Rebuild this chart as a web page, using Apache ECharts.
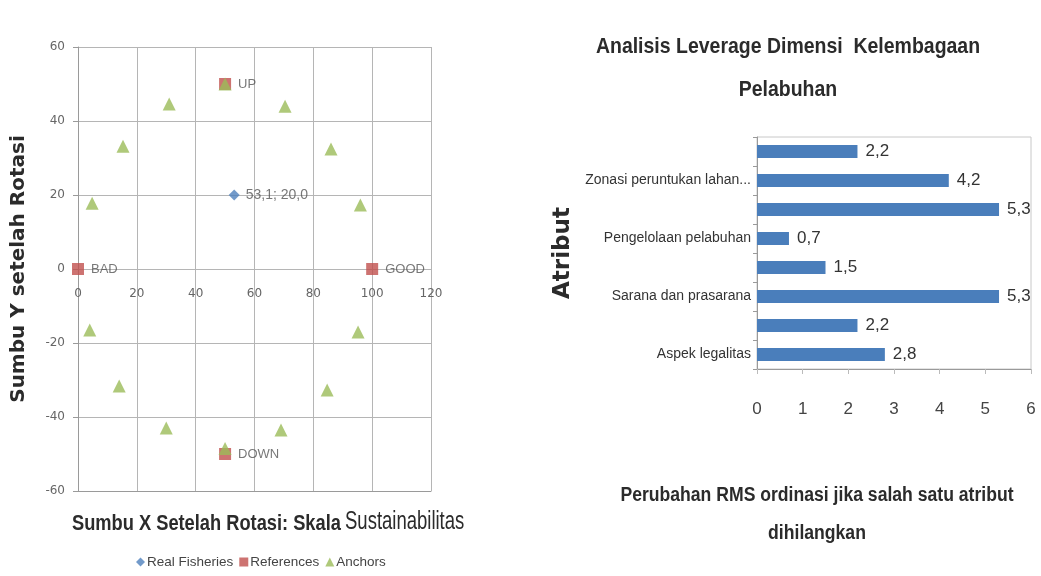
<!DOCTYPE html>
<html>
<head>
<meta charset="utf-8">
<script src="https://cdn.jsdelivr.net/npm/echarts@6/dist/echarts.min.js"></script>
<style>
  html, body { margin: 0; padding: 0; background: #fff; }
  #chart { width: 1041px; height: 576px; }
</style>
</head>
<body>
<div id="chart"></div>
<script>
// ---- Ordination (RAPFISH-style) scatter ----
const realFisheries = [[53.1, 20.0]];
const referencePoints = [[0, 0], [100, 0], [50, 50], [50, -50]];
const referenceNames = ['BAD', 'GOOD', 'UP', 'DOWN'];
const anchorPoints = [
  [4.8, 17.8], [15.3, 33.2], [31, 44.6], [50, 50], [70.4, 44], [86, 32.4], [96, 17.3],
  [95.2, -17], [84.7, -32.7], [69, -43.5], [50, -48.5], [30, -43], [14, -31.6], [4, -16.5]
];
const scatterXTicks = [0, 20, 40, 60, 80, 100, 120];
const scatterYTicks = [-60, -40, -20, 0, 20, 40, 60];

// ---- Leverage bar chart (listed bottom to top) ----
const attributeNames = ['Aspek legalitas', '', 'Sarana dan prasarana', '', 'Pengelolaan pelabuhan', '', 'Zonasi peruntukan lahan...', ''];
const rmsChange = [2.8, 2.2, 5.3, 1.5, 0.7, 5.3, 4.2, 2.2];
const leverageTicks = [0, 1, 2, 3, 4, 5, 6];

const comma = v => v.toFixed(1).replace('.', ',');
const sans = 'Liberation Sans, Arial, sans-serif';
const titleColor = '#2b2b2b';

// condensed heading text: a plain text element squeezed horizontally
function heading(text, x, y, size, weight, scaleX, align) {
  return {
    type: 'text', x: x, y: y, scaleX: scaleX, scaleY: 1, silent: true,
    style: {
      text: text, fill: titleColor, textAlign: align || 'center', textVerticalAlign: 'middle',
      font: weight + ' ' + size + 'px ' + sans
    }
  };
}

const chart = echarts.init(document.getElementById('chart'));
chart.setOption({
  backgroundColor: '#fff',
  animation: false,
  graphic: [
    heading('Sumbu X Setelah Rotasi: Skala', 72, 524, 22, 'bold', 0.83, 'left'),
    heading('Sustainabilitas', 345, 522, 25, 'normal', 0.74, 'left'),
    heading('Analisis Leverage Dimensi  Kelembagaan', 788, 47, 22, 'bold', 0.885),
    heading('Pelabuhan', 788, 90, 22, 'bold', 0.885),
    heading('Perubahan RMS ordinasi jika salah satu atribut', 817, 495, 20, 'bold', 0.88),
    heading('dihilangkan', 817, 533, 20, 'bold', 0.88)
  ],
  legend: {
    left: 131, top: 550,
    itemWidth: 9, itemHeight: 9, itemGap: 6,
    textStyle: { fontFamily: sans, fontSize: 13.5, color: '#444', padding: [0, 0, 0, -3] },
    data: [
      { name: 'Real Fisheries', icon: 'diamond' },
      { name: 'References', icon: 'rect' },
      { name: 'Anchors', icon: 'triangle' }
    ]
  },
  grid: [
    { left: 78, right: 610, top: 47, bottom: 85 },
    { left: 757, right: 10, top: 137, bottom: 207, show: true, borderColor: '#c8c8c8', borderWidth: 1 }
  ],
  xAxis: [
    {
      gridIndex: 0, type: 'value',
      min: scatterXTicks[0], max: scatterXTicks[scatterXTicks.length - 1], interval: 20,
      axisLine: { onZero: false, lineStyle: { color: '#9a9a9a' } },
      axisTick: { show: false },
      // tick labels sit just under the y = 0 line
      axisLabel: { fontFamily: 'DejaVu Sans', fontSize: 12, color: '#666', margin: -203 },
      splitLine: { lineStyle: { color: '#b5b5b5' } }
    },
    {
      gridIndex: 1, type: 'value',
      min: leverageTicks[0], max: leverageTicks[leverageTicks.length - 1], interval: 1,
      axisLine: { show: true, lineStyle: { color: '#9a9a9a' } },
      axisTick: { show: true, length: 5, lineStyle: { color: '#bbb' } },
      axisLabel: { fontFamily: sans, fontSize: 17, color: '#444', margin: 32 },
      splitLine: { show: false }
    }
  ],
  yAxis: [
    {
      gridIndex: 0, type: 'value',
      min: scatterYTicks[0], max: scatterYTicks[scatterYTicks.length - 1], interval: 20,
      axisLine: { show: true, lineStyle: { color: '#9a9a9a' } },
      axisTick: { show: true, length: 5, lineStyle: { color: '#9a9a9a' } },
      axisLabel: { fontFamily: 'DejaVu Sans', fontSize: 12, color: '#666', margin: 13 },
      splitLine: { lineStyle: { color: '#b5b5b5' } },
      name: 'Sumbu Y setelah Rotasi', nameLocation: 'middle', nameGap: 49, nameRotate: 90,
      nameTextStyle: { fontFamily: 'DejaVu Sans', fontWeight: 'bold', fontSize: 20, color: titleColor }
    },
    {
      gridIndex: 1, type: 'category', data: attributeNames,
      axisLine: { show: true, lineStyle: { color: '#9a9a9a' } },
      axisTick: { show: true, length: 4, lineStyle: { color: '#9a9a9a' } },
      axisLabel: { interval: 0, fontFamily: sans, fontSize: 14, color: '#333', margin: 6 },
      name: 'Atribut', nameLocation: 'middle', nameGap: 182, nameRotate: 90,
      nameTextStyle: { fontFamily: 'DejaVu Sans', fontWeight: 'bold', fontSize: 23, color: titleColor }
    }
  ],
  series: [
    {
      name: 'Real Fisheries', type: 'scatter', xAxisIndex: 0, yAxisIndex: 0,
      symbol: 'diamond', symbolSize: 11,
      itemStyle: { color: '#4f81bd' },
      data: realFisheries,
      label: {
        show: true, position: 'right', distance: 6,
        fontFamily: sans, fontSize: 14, color: '#555',
        formatter: p => comma(p.value[0]) + '; ' + comma(p.value[1])
      }
    },
    {
      name: 'References', type: 'scatter', xAxisIndex: 0, yAxisIndex: 0,
      symbol: 'rect', symbolSize: 12,
      itemStyle: { color: '#c0504d' },
      data: referencePoints.map((p, i) => ({ value: p, name: referenceNames[i] })),
      label: {
        show: true, position: 'right', distance: 7,
        fontFamily: sans, fontSize: 13, color: '#555',
        formatter: p => p.name
      }
    },
    {
      name: 'Anchors', type: 'scatter', xAxisIndex: 0, yAxisIndex: 0,
      symbol: 'triangle', symbolSize: 13,
      itemStyle: { color: '#9bbb59' },
      data: anchorPoints
    },
    {
      name: 'RMS', type: 'bar', xAxisIndex: 1, yAxisIndex: 1,
      data: rmsChange, barWidth: 13,
      itemStyle: { color: '#4a7ebb' },
      label: {
        show: true, position: 'right', distance: 8,
        fontFamily: sans, fontSize: 17, color: '#333',
        formatter: p => comma(p.value)
      }
    }
  ]
});
</script>
</body>
</html>
